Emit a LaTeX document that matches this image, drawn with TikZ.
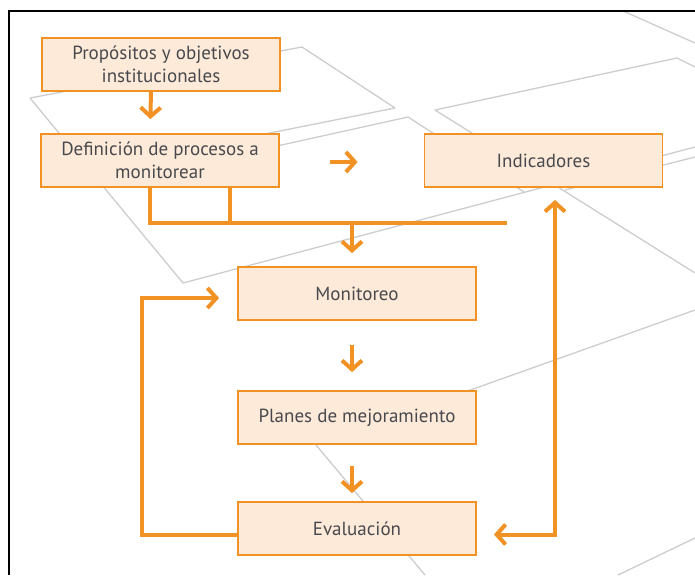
\documentclass[tikz,border=0pt]{standalone}
\usepackage{fontspec}
\setmainfont{PT Sans}
\usepackage{tikz}
\usetikzlibrary{arrows.meta}
\definecolor{naranja}{RGB}{243,146,36}
\definecolor{crema}{RGB}{253,234,216}
\definecolor{texto}{RGB}{72,73,78}
\definecolor{gris}{RGB}{205,205,205}
\tikzstyle{caja} = [draw=naranja, line width=1.8pt, fill=crema, text=texto, minimum width=238pt, minimum height=53pt, align=center, inner sep=0pt, font=\fontsize{19}{23}\selectfont]
\tikzstyle{linea} = [draw=naranja, line width=4pt]
\tikzstyle{flecha} = [linea, -{Straight Barb[length=9pt,width=20pt]}]
\tikzstyle{trazo} = [draw=gris, line width=1.3pt, line join=round]

\begin{document}
\begin{tikzpicture}[x=1pt,y=-1pt]
    \useasboundingbox (0,0) rectangle (695,575);
    % planos del fondo
    \draw[trazo] (30,98)--(302,47)--(395,108)--(250,137);
    \draw[trazo] (30,98)--(183,283)--(695,147);
    \draw[trazo] (250,152)--(408,117)--(524,192);
    \draw[trazo] (695,67)--(677,58)--(435,110)--(695,273);
    \draw[trazo] (565,190)--(695,157);
    \draw[trazo] (623,11)--(695,43);
    \draw[trazo] (695,310)--(316,445)--(425,575);
    \draw[trazo] (618,575)--(695,538);
    % marco
    \draw[line width=1.6pt] (9,575)--(9,11)--(695,11);
    % cajas
    \node[caja] (prop) at (161,64.5) {Propósitos y objetivos\\institucionales};
    \node[caja] (def) at (160,160.5) {Definición de procesos a\\monitorear};
    \node[caja] (ind) at (543.5,160.5) {Indicadores};
    \node[caja] (mon) at (357,293.5) {Monitoreo};
    \node[caja] (pla) at (357,417.5) {Planes de mejoramiento};
    \node[caja] (eva) at (357,528.5) {Evaluación};
    \coordinate (bus) at (507,223);
    % conectores
    \draw[flecha, shorten >=14pt] ([xshift=-10pt]prop.south) -- ([xshift=-10pt]def.north);
    \draw[flecha, shorten <=50pt, shorten >=66pt] ([yshift=-1.5pt]def.east) -- ([yshift=-1.5pt]ind.west);
    \draw[linea] ([xshift=-10pt]def.south) |- (bus);
    \draw[linea] ([xshift=70pt]def.south) -- ++(0,35);
    \draw[flecha, shorten >=13pt] ([xshift=-5pt]mon.north |- bus) -- ([xshift=-5pt]mon.north);
    \draw[flecha, shorten <=24pt, shorten >=18pt] ([xshift=-5pt]mon.south) -- ([xshift=-5pt]pla.north);
    \draw[flecha, shorten <=21pt, shorten >=8pt] ([xshift=-5pt]pla.south) -- ([xshift=-5pt]eva.north);
    \draw[flecha, shorten >=18pt] ([yshift=-6.5pt]eva.west) -- ++(-95,0) |- ([yshift=-4.5pt]mon.west);
    \draw[flecha, {Straight Barb[length=9pt,width=20pt]}-{Straight Barb[length=9pt,width=20pt]}, shorten <=17pt, shorten >=12pt] ([yshift=-6pt]eva.east) -| ([xshift=11.5pt]ind.south);
\end{tikzpicture}
\end{document}
